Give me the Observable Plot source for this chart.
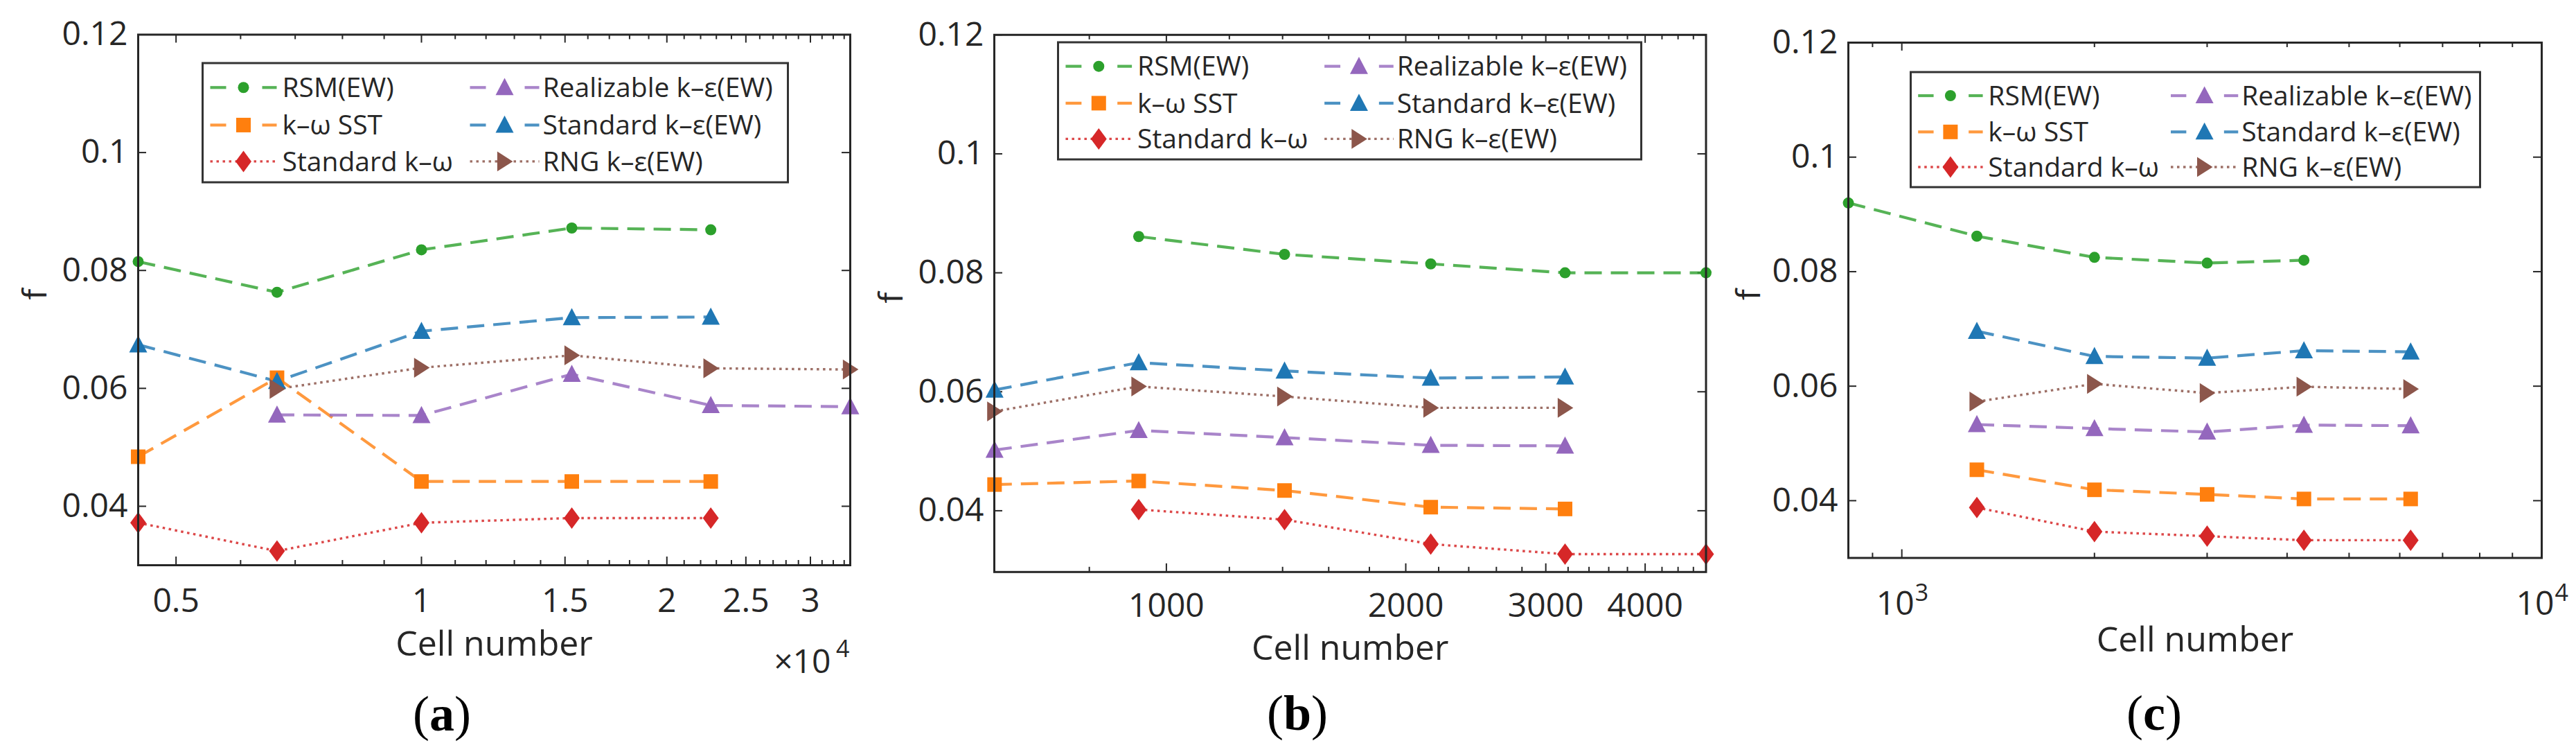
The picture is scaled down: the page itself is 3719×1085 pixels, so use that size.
<!DOCTYPE html>
<html>
<head>
<meta charset="utf-8">
<script src="https://cdn.jsdelivr.net/npm/d3@7"></script>
<script src="https://cdn.jsdelivr.net/npm/@observablehq/plot@0.6"></script>
<style>
  html, body { margin: 0; padding: 0; background: #fff; }
  #root { position: relative; width: 3719px; height: 1085px; overflow: hidden; background: #fff; }
</style>
</head>
<body>
<div id="root"></div>
<script>
// ---------------- data ----------------
const seriesKeys   = ["rsm", "sst", "skw", "real", "ske", "rng"];
const seriesLabels = ["RSM(EW)", "k–ω SST", "Standard k–ω", "Realizable k–ε(EW)", "Standard k–ε(EW)", "RNG k–ε(EW)"];
const seriesColors = ["#2ca02c", "#ff7f0e", "#d62728", "#9467bd", "#1f77b4", "#8c564b"];

const yTicks = [0.04, 0.06, 0.08, 0.1, 0.12];

// (a)
const cellsA = [4493, 6650, 10000, 15290, 22640, 33570];
const rsmA  = [0.0815, 0.0763, 0.0835, 0.0872, 0.0869, null];
const sstA  = [0.0484, 0.0618, 0.0442, 0.0442, 0.0442, null];
const skwA  = [0.0372, 0.0324, 0.0372, 0.0380, 0.0380, null];
const realA = [null,   0.0555, 0.0554, 0.0624, 0.0571, 0.0569];
const skeA  = [0.0674, 0.0612, 0.0697, 0.0720, 0.0721, null];
const rngA  = [null,   0.0599, 0.0635, 0.0656, 0.0634, 0.0632];
const xTicksA = [5000, 10000, 15000, 20000, 25000, 30000];
const xTickLabelsA = ["0.5", "1", "1.5", "2", "2.5", "3"];

// (b)
const cellsB = [608, 923, 1408, 2150, 3172, 4771];
const rsmB  = [null,   0.0861, 0.0831, 0.0815, 0.0800, 0.0800];
const sstB  = [0.0444, 0.0450, 0.0434, 0.0406, 0.0403, null];
const skwB  = [null,   0.0402, 0.0385, 0.0344, 0.0327, 0.0327];
const realB = [0.0502, 0.0535, 0.0523, 0.0510, 0.0509, null];
const skeB  = [0.0603, 0.0649, 0.0635, 0.0623, 0.0625, null];
const rngB  = [0.0567, 0.0609, 0.0592, 0.0573, 0.0573, null];
const xTicksB = [1000, 2000, 3000, 4000];
const xTickLabelsB = ["1000", "2000", "3000", "4000"];

// (c)
const cellsC = [825, 1310, 2000, 3000, 4250, 6240];
const rsmC  = [0.0920, 0.0862, 0.0825, 0.0815, 0.0820, null];
const sstC  = [null,   0.0454, 0.0419, 0.0411, 0.0403, 0.0403];
const skwC  = [null,   0.0388, 0.0346, 0.0338, 0.0331, 0.0331];
const realC = [null,   0.0533, 0.0526, 0.0520, 0.0532, 0.0531];
const skeC  = [null,   0.0696, 0.0652, 0.0649, 0.0662, 0.0660];
const rngC  = [null,   0.0573, 0.0604, 0.0588, 0.0599, 0.0595];
const xTicksC = [1000, 10000];
const xTickBaseC = ["10", "10"];
const xTickExpC = ["3", "4"];

const captions = ["a", "b", "c"];

// ---------------- styles ----------------
const INK = "#262626";
const FONT = "'Open Sans', 'Noto Sans', sans-serif";

function shape(fn) { return { draw(ctx, size) { fn(ctx, Math.sqrt(size / Math.PI)); } }; }
const symCircle   = shape((c, r) => { c.moveTo(r, 0); c.arc(0, 0, r, 0, 2 * Math.PI); c.closePath(); });
const symSquare   = shape((c, r) => { c.moveTo(-r, -r); c.lineTo(r, -r); c.lineTo(r, r); c.lineTo(-r, r); c.closePath(); });
const symDiamond  = shape((c, r) => { const w = r * 0.74; c.moveTo(0, -r); c.lineTo(w, 0); c.lineTo(0, r); c.lineTo(-w, 0); c.closePath(); });
const symTriUp    = shape((c, r) => { c.moveTo(0, -r * 1.05); c.lineTo(r, r * 0.85); c.lineTo(-r, r * 0.85); c.closePath(); });
const symTriRight = shape((c, r) => { c.moveTo(r * 0.95, 0); c.lineTo(-r * 0.85, -r * 1.15); c.lineTo(-r * 0.85, r * 1.15); c.closePath(); });

const seriesStyle = {
  rsm:  { symbol: symCircle,   r: 8,    dotted: false },
  sst:  { symbol: symSquare,   r: 10.5, dotted: false },
  skw:  { symbol: symDiamond,  r: 15.5, dotted: true  },
  real: { symbol: symTriUp,    r: 13,   dotted: false },
  ske:  { symbol: symTriUp,    r: 13,   dotted: false },
  rng:  { symbol: symTriRight, r: 12.5, dotted: true  }
};
const DASH = "25,13", DOT = "3.5,5.5";
const DASH_W = 4.2, DOT_W = 3.4;

// ---------------- panels ----------------
const panels = [
  {
    values: { rsm: rsmA, sst: sstA, skw: skwA, real: realA, ske: skeA, rng: rngA },
    cells: cellsA, xDomain: [4493, 33570], yDomain: [0.03, 0.12],
    frame: { left: 198.5, right: 1226.5, top: 49.5, bottom: 815 },
    xTicks: xTicksA, xLabels: xTickLabelsA, xMinorStep: 1000, xPad: 33,
    labelDy: 130, fDx: -148,
    legend: { left: 292, top: 91, right: 1137, bottom: 263 },
    caption: { x: 638, y: 1054 }, mult: true
  },
  {
    values: { rsm: rsmB, sst: sstB, skw: skwB, real: realB, ske: skeB, rng: rngB },
    cells: cellsB, xDomain: [607.6, 4771], yDomain: [0.0297, 0.12],
    frame: { left: 1434.5, right: 2462, top: 49.8, bottom: 824.8 },
    xTicks: xTicksB, xLabels: xTickLabelsB, xMinorStep: 200, xPad: 31,
    labelDy: 127, fDx: -148,
    legend: { left: 1527, top: 61, right: 2369, bottom: 230 },
    caption: { x: 1873, y: 1053 }
  },
  {
    values: { rsm: rsmC, sst: sstC, skw: skwC, real: realC, ske: skeC, rng: rngC },
    cells: cellsC, xDomain: [825, 10000], yDomain: [0.03, 0.12],
    frame: { left: 2667.5, right: 3668.5, top: 61, bottom: 804.5 },
    xTicks: xTicksC, logLabels: true, xPad: 47,
    labelDy: 135, fDx: -143,
    legend: { left: 2758, top: 104, right: 3580, bottom: 270 },
    caption: { x: 3110, y: 1053 }
  }
];

function minorTicks(p) {
  const [x0, x1] = p.xDomain;
  const out = [];
  if (p.xMinorStep) {
    for (let v = Math.ceil(x0 / p.xMinorStep) * p.xMinorStep; v <= x1; v += p.xMinorStep) {
      if (!p.xTicks.includes(v)) out.push(v);
    }
  } else {
    for (let e = Math.floor(Math.log10(x0)); e <= Math.ceil(Math.log10(x1)); e++) {
      for (let m = 2; m <= 9; m++) { const v = m * Math.pow(10, e); if (v >= x0 && v <= x1) out.push(v); }
      const v9 = 9 * Math.pow(10, e - 1);
      if (v9 >= x0 && v9 <= x1 && !out.includes(v9)) out.push(v9);
    }
  }
  return out;
}

const root = document.getElementById("root");
const mL = 200, mR = 70, mB = 200;

panels.forEach((p, pi) => {
  const fw = p.frame.right - p.frame.left;
  const fh = p.frame.bottom - p.frame.top;
  const mT = p.frame.top;
  const width = fw + mL + mR, height = fh + mT + mB;
  const svgLeft = p.frame.left - mL;
  const [x0, x1] = p.xDomain, [y0, y1] = p.yDomain;
  const decadePx = fw / Math.log10(x1 / x0);
  const dyData = px => px * (y1 - y0) / fh;
  const xFac = px => Math.pow(10, px / decadePx);
  const minors = minorTicks(p);
  const tk = { stroke: INK, strokeWidth: 2 };

  const marks = [];
  // inward ticks on all four sides
  marks.push(Plot.ruleX(p.xTicks, { x: d => d, y1: () => y0, y2: () => y0 + dyData(12), ...tk }));
  marks.push(Plot.ruleX(p.xTicks, { x: d => d, y1: () => y1, y2: () => y1 - dyData(12), ...tk }));
  marks.push(Plot.ruleX(minors, { x: d => d, y1: () => y0, y2: () => y0 + dyData(7), ...tk }));
  marks.push(Plot.ruleX(minors, { x: d => d, y1: () => y1, y2: () => y1 - dyData(7), ...tk }));
  marks.push(Plot.ruleY(yTicks, { y: d => d, x1: () => x0, x2: () => x0 * xFac(12), ...tk }));
  marks.push(Plot.ruleY(yTicks, { y: d => d, x1: () => x1, x2: () => x1 / xFac(12), ...tk }));

  const pts = {};
  seriesKeys.forEach(k => {
    pts[k] = p.cells.map((c, i) => ({ cell: c, f: p.values[k][i] })).filter(d => d.f != null);
  });
  seriesKeys.forEach((k, i) => {
    const st = seriesStyle[k];
    marks.push(Plot.line(pts[k], {
      x: "cell", y: "f", stroke: seriesColors[i],
      strokeWidth: st.dotted ? DOT_W : DASH_W, strokeDasharray: st.dotted ? DOT : DASH,
      strokeOpacity: st.dotted ? 0.85 : 0.8, strokeLinecap: "butt", strokeLinejoin: "miter"
    }));
  });
  seriesKeys.forEach((k, i) => {
    const st = seriesStyle[k];
    marks.push(Plot.dot(pts[k], { x: "cell", y: "f", symbol: st.symbol, r: st.r, fill: seriesColors[i], stroke: "none" }));
  });
  marks.push(Plot.frame({ stroke: INK, strokeWidth: 3 }));

  // axis titles
  marks.push(Plot.text(["Cell number"], { frameAnchor: "bottom", text: d => d, dy: p.labelDy, fontSize: 50, fill: INK }));
  marks.push(Plot.text(["f"], { frameAnchor: "left", text: d => d, rotate: -90, dx: p.fDx, fontSize: 48, fill: INK }));

  if (p.mult) {
    marks.push(Plot.text(["×10"], { frameAnchor: "bottom-right", text: d => d, textAnchor: "end", lineAnchor: "bottom", dx: -28, dy: 155, fontSize: 48, fill: INK }));
    marks.push(Plot.text(["4"], { frameAnchor: "bottom-right", text: d => d, textAnchor: "end", lineAnchor: "bottom", dx: -1, dy: 132, fontSize: 34, fill: INK }));
  }
  if (p.logLabels) {
    marks.push(Plot.text(p.xTicks, { x: d => d, frameAnchor: "bottom", text: (d, i) => xTickBaseC[i], textAnchor: "end", lineAnchor: "bottom", dx: 18, dy: 82, fontSize: 48, fill: INK }));
    marks.push(Plot.text(p.xTicks, { x: d => d, frameAnchor: "bottom", text: (d, i) => xTickExpC[i], textAnchor: "start", lineAnchor: "bottom", dx: 19, dy: 62, fontSize: 34, fill: INK }));
  }

  const xOpts = { type: "log", domain: p.xDomain, label: null };
  if (p.logLabels) xOpts.axis = null;
  else Object.assign(xOpts, { ticks: p.xTicks, tickFormat: d => p.xLabels[p.xTicks.indexOf(d)], tickSize: 0, tickPadding: p.xPad });

  const svg = Plot.plot({
    width, height,
    marginLeft: mL, marginRight: mR, marginTop: mT, marginBottom: mB,
    x: xOpts,
    y: { domain: p.yDomain, ticks: yTicks, tickFormat: d => String(d), tickSize: 0, tickPadding: 15, label: null },
    style: {
      position: "absolute", left: svgLeft + "px", top: "0px", maxWidth: "none",
      fontFamily: FONT, fontSize: "48px", color: INK, background: "transparent", overflow: "visible"
    },
    marks
  });

  // legend (drawn inside the axes, MATLAB style)
  const L = p.legend;
  const bw = L.right - L.left, bh = L.bottom - L.top;
  const sx = bw / 845;
  const lx = L.left - svgLeft, ly = L.top;
  const g = d3.select(svg).append("g").attr("class", "legend").attr("text-anchor", "start");
  g.append("rect").attr("x", lx).attr("y", ly).attr("width", bw).attr("height", bh)
    .attr("fill", "#fff").attr("stroke", "#333").attr("stroke-width", 3);
  const rowsF = [0.205, 0.52, 0.825];
  const cols = [
    { start: 11, mid: 59, end: 107, text: 115 },
    { start: 386, mid: 436, end: 486, text: 491 }
  ];
  seriesKeys.forEach((k, i) => {
    const col = cols[Math.floor(i / 3)];
    const yy = ly + bh * rowsF[i % 3];
    const st = seriesStyle[k];
    const xs = lx + col.start * sx, xm = lx + col.mid * sx, xe = lx + col.end * sx;
    if (st.dotted) {
      g.append("line").attr("x1", xs).attr("x2", xe).attr("y1", yy).attr("y2", yy)
        .attr("stroke", seriesColors[i]).attr("stroke-width", DOT_W).attr("stroke-dasharray", DOT).attr("stroke-opacity", 0.85);
    } else {
      [[xs, xs + 23 * sx], [xe - 21 * sx, xe]].forEach(([a, b]) => {
        g.append("line").attr("x1", a).attr("x2", b).attr("y1", yy).attr("y2", yy)
          .attr("stroke", seriesColors[i]).attr("stroke-width", DASH_W).attr("stroke-opacity", 0.8);
      });
    }
    g.append("path").attr("transform", `translate(${xm},${yy})`)
      .attr("d", d3.symbol(st.symbol, Math.PI * st.r * st.r)()).attr("fill", seriesColors[i]);
    g.append("text").attr("x", lx + col.text * sx).attr("y", yy).attr("dy", "0.35em")
      .attr("text-anchor", "start")
      .attr("font-size", 39).attr("fill", INK).style("font-family", FONT).text(seriesLabels[i]);
  });

  root.appendChild(svg);
});

// captions (a), (b), (c)
const capSvg = d3.create("svg").attr("width", 3719).attr("height", 1085)
  .style("position", "absolute").style("left", "0px").style("top", "0px").style("pointer-events", "none");
panels.forEach((p, i) => {
  const t = capSvg.append("text").attr("x", p.caption.x).attr("y", p.caption.y)
    .attr("text-anchor", "middle").attr("font-size", 72).attr("fill", "#000")
    .style("font-family", "'Liberation Serif', 'Times New Roman', serif");
  t.append("tspan").text("(");
  t.append("tspan").attr("font-weight", "bold").text(captions[i]);
  t.append("tspan").text(")");
});
root.appendChild(capSvg.node());
</script>
</body>
</html>
